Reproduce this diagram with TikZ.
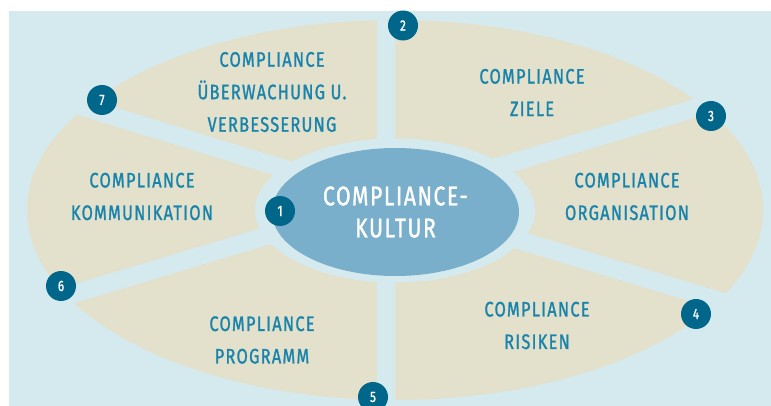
\documentclass[tikz,border=0pt]{standalone}
\usepackage{fontspec}
\newfontfamily\dinfont[FakeStretch=0.78, LetterSpace=6, FakeBold=1.2]{Fira Sans}
\usepackage{tikz}
\usetikzlibrary{shapes.geometric}
\definecolor{bgblue}{HTML}{D5EAEE}
\definecolor{sand}{HTML}{E3E0CC}
\definecolor{kulturblue}{HTML}{7AAFCB}
\definecolor{darkteal}{HTML}{00668A}
\definecolor{textblue}{HTML}{1884AC}
\tikzstyle{sectortext} = [align=center, text=textblue, font=\dinfont\fontsize{21}{32.5}\selectfont]
\tikzstyle{kulturtext} = [align=center, text=white, font=\dinfont\fontsize{27}{32}\selectfont]
\tikzstyle{numdot} = [circle, fill=darkteal, text=white, minimum size=30, inner sep=0pt, font=\dinfont\fontsize{15}{15}\selectfont]
\tikzstyle{gapline} = [draw=bgblue, line width=18]

\begin{document}
\begin{tikzpicture}[x=1pt, y=-1pt]
		\useasboundingbox (0,0) rectangle (771,406);
		\fill[bgblue] (9,11) rectangle (771,406);
		
		% ring of sectors
		\fill[sand] (395,210) ellipse [x radius=368, y radius=190];
		\fill[bgblue] (395,210.5) ellipse [x radius=140, y radius=72];
		\coordinate (Hub) at (386,200);
		\draw[gapline] (386,11) -- (386,406);
		\draw[gapline] (Hub) -- (60,100);
		\draw[gapline] (Hub) -- (30,307);
		\draw[gapline] (Hub) -- (760,89);
		\draw[gapline] (Hub) -- (760,313);
		
		\node (Kultur) [ellipse, fill=kulturblue, minimum width=247, minimum height=128, inner sep=0pt] at (395.5,212) {};
		\node (KulturText) [kulturtext] at (Kultur.center) {COMPLIANCE-\\KULTUR};
		
		\node (Ueberwachung) [sectortext] at (272,92) {COMPLIANCE\\ÜBERWACHUNG U.\\VERBESSERUNG};
		\node (Ziele) [sectortext] at (532,92.5) {COMPLIANCE\\ZIELE};
		\node (Organisation) [sectortext] at (627,196.5) {COMPLIANCE\\ORGANISATION};
		\node (Risiken) [sectortext] at (537,325.5) {COMPLIANCE\\RISIKEN};
		\node (Programm) [sectortext] at (262,340) {COMPLIANCE\\PROGRAMM};
		\node (Kommunikation) [sectortext] at (142,196.5) {COMPLIANCE\\KOMMUNIKATION};
		
		\node (NumOne) [numdot] at (280,211) {1};
		\node (NumTwo) [numdot] at (403,25.5) {2};
		\node (NumThree) [numdot] at (711,116) {3};
		\node (NumFour) [numdot] at (696,314) {4};
		\node (NumFive) [numdot] at (373,397) {5};
		\node (NumSix) [numdot] at (61,286) {6};
		\node (NumSeven) [numdot] at (102,100) {7};
\end{tikzpicture}
\end{document}
